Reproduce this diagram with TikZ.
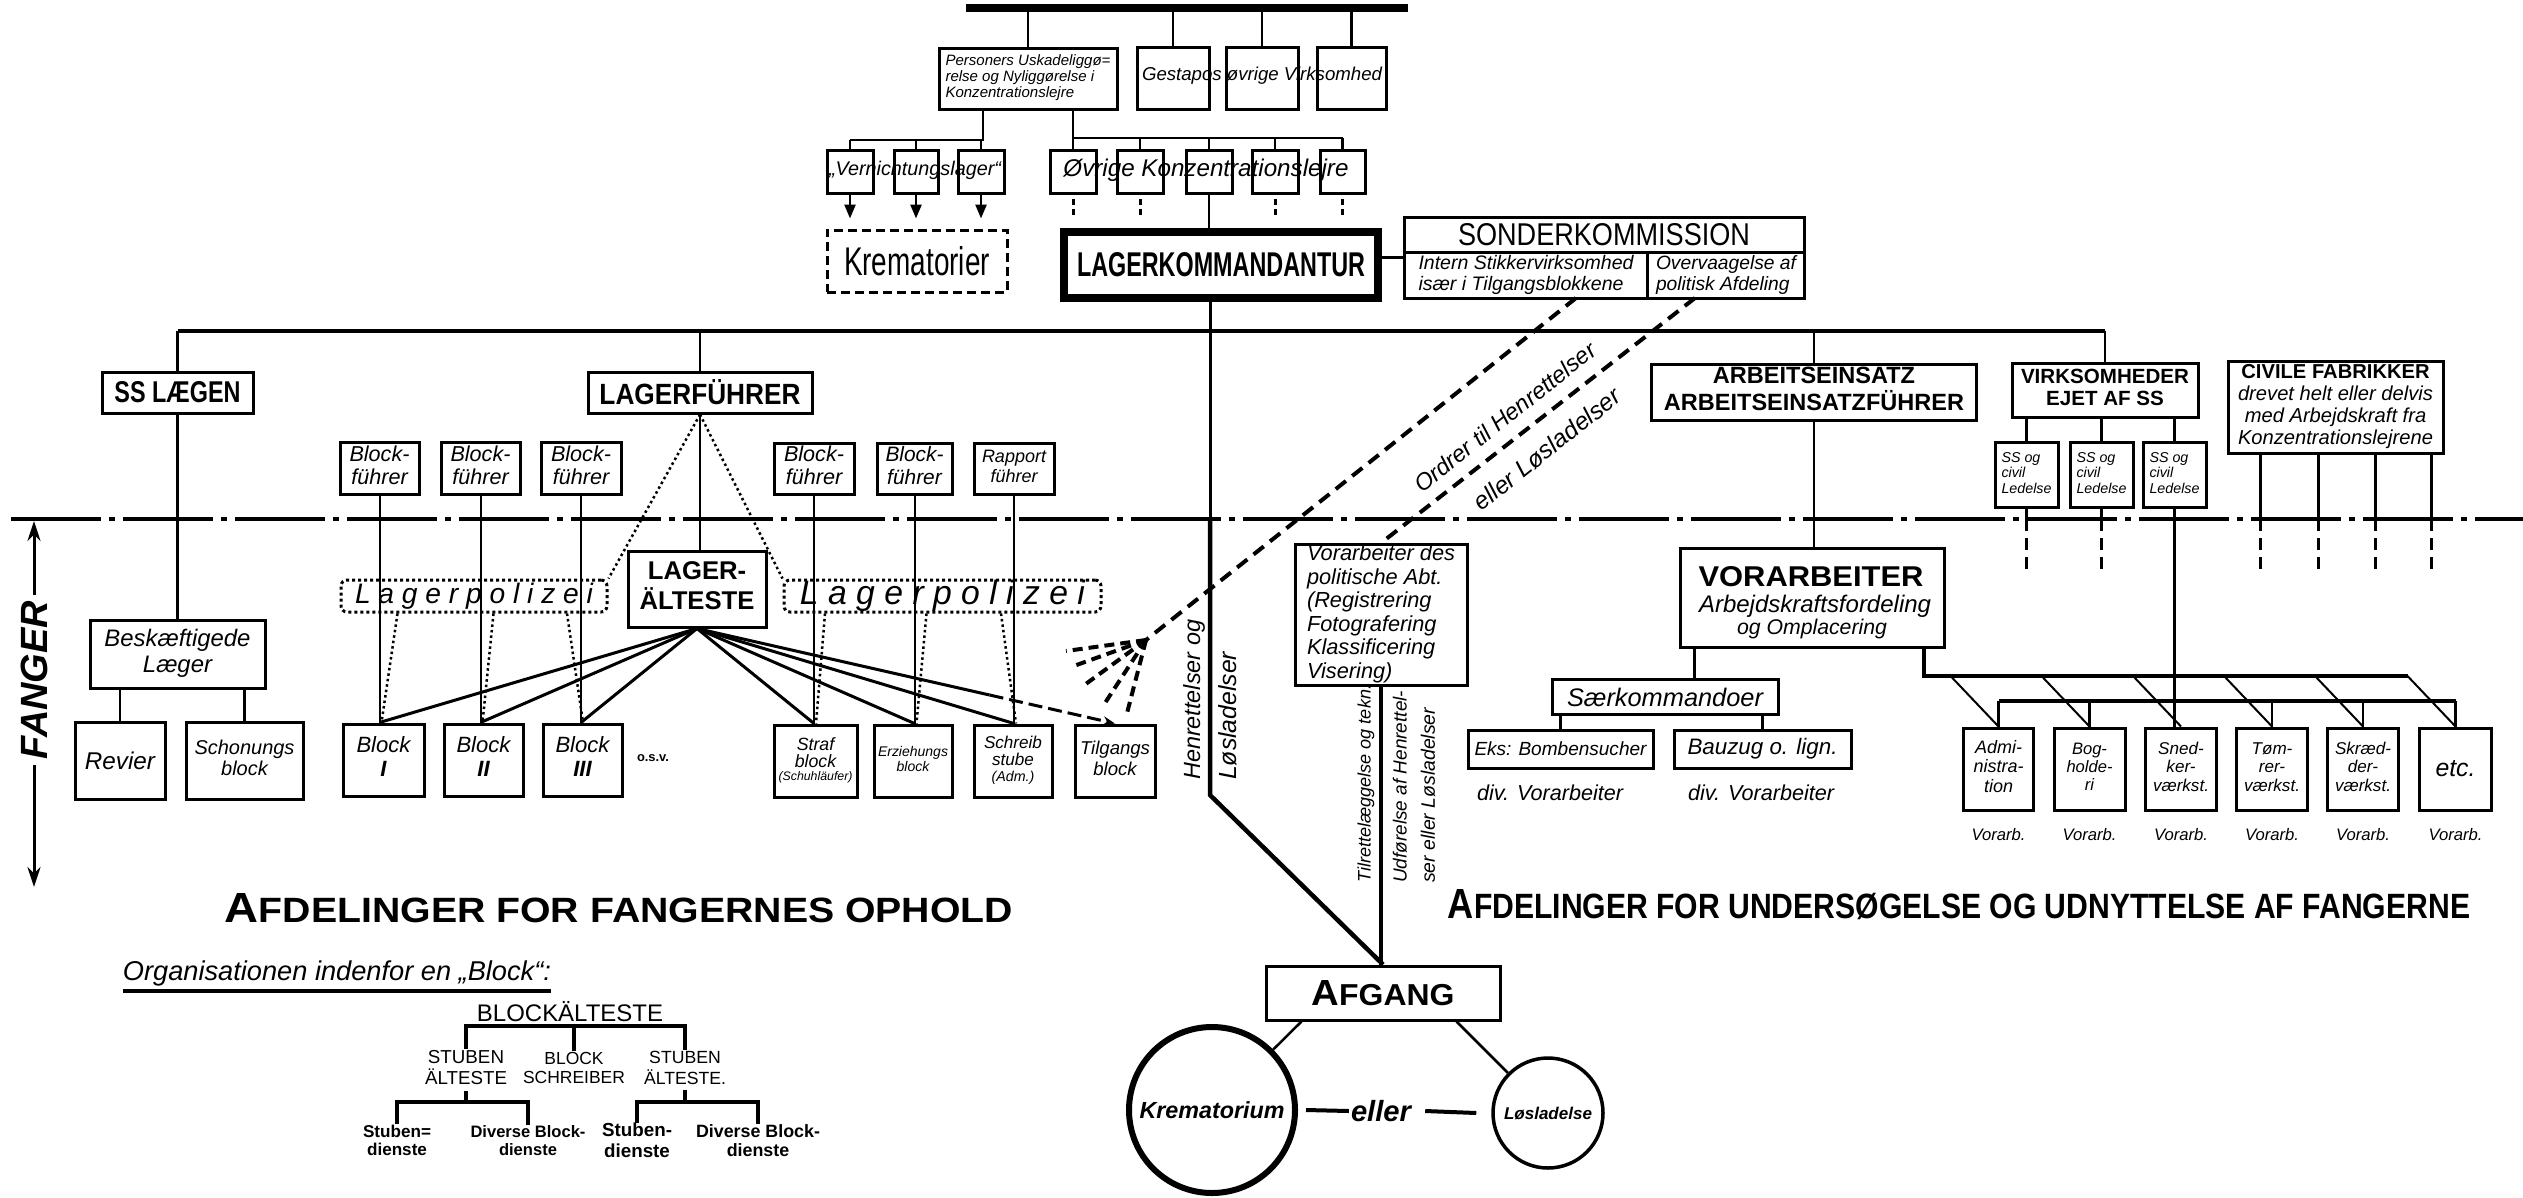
\documentclass[tikz,border=0pt]{standalone}
\usepackage{fontspec}
\setmainfont{Liberation Sans}
\usetikzlibrary{arrows.meta,calc}
\newcommand\fit[2]{\resizebox{#1pt}{!}{#2}}
\newcommand\fitwh[3]{\resizebox{#1pt}{#2pt}{#3}}
\newcommand\mlc[1]{\begin{tabular}{@{}c@{}}#1\end{tabular}}
\newcommand\mll[1]{\begin{tabular}{@{}l@{}}#1\end{tabular}}
\renewcommand\arraystretch{0.9}
\begin{document}
\begin{tikzpicture}[x=1pt,y=-1pt,
  box/.style={draw, line width=3pt, inner sep=0pt, align=center},
  con/.style={line width=2.5pt},
  thinl/.style={line width=2pt},
  dots/.style={line width=2.5pt, dash pattern=on 2.5pt off 3pt},
  dsh/.style={line width=4pt, dash pattern=on 13pt off 8pt},
  txt/.style={inner sep=0pt}]
\useasboundingbox (0,0) rectangle (2523,1197);
\fill[white] (0,0) rectangle (2523,1197);

% ---------- top ----------
\node[fill=black, inner sep=0pt, minimum width=442pt, minimum height=8pt] (topbar) at (1187,8) {};
\node[box, minimum width=178pt, minimum height=61pt] (pers) at (1028,78.5)
  {\fit{165}{\itshape\mll{Personers Uskadeliggø=\\relse og Nyliggørelse i\\Konzentrationslejre}}};
\node[box, minimum width=72pt, minimum height=62pt] (g1) at (1173,78) {};
\node[box, minimum width=72pt, minimum height=62pt] (g2) at (1262,78) {};
\node[box, minimum width=69pt, minimum height=62pt] (g3) at (1351.5,78) {};
\node[txt] (gtxt) at (1262,76) {\fit{240}{\itshape Gestapos øvrige Virksomhed}};
\foreach \n in {pers,g1,g2,g3} \draw[con] (\n.north |- topbar.south) -- (\n.north);

% Vernichtungslager
\node[box, minimum width=46pt, minimum height=43pt] (v1) at (850,171.5) {};
\node[box, minimum width=44pt, minimum height=43pt] (v2) at (916,171.5) {};
\node[box, minimum width=46pt, minimum height=43pt] (v3) at (981,171.5) {};
\node[txt] (vtxt) at (915,170) {\fit{172}{\itshape „Vernichtungslager“}};
\coordinate (vj) at (983,140);
\draw[con] (pers.south -| vj) -- (vj) -- (vj -| v1.north);
\foreach \n in {v1,v2,v3} \draw[con] (\n.north |- vj) -- (\n.north);
\node[box, dash pattern=on 9pt off 5pt, minimum width=180pt, minimum height=62pt] (krem) at (917,261) {\fitwh{146}{29}{Krematorier}};
\foreach \n in {v1,v2,v3} \draw[con, shorten >=10pt, -{Triangle[length=14pt,width=11pt]}] (\n.south) -- (\n.south |- krem.north);

% Oevrige Konzentrationslejre
\node[box, minimum width=46pt, minimum height=43pt] (o1) at (1073,171.5) {};
\node[box, minimum width=46pt, minimum height=43pt] (o2) at (1140,171.5) {};
\node[box, minimum width=46pt, minimum height=43pt] (o3) at (1209,171.5) {};
\node[box, minimum width=46pt, minimum height=43pt] (o4) at (1275,171.5) {};
\node[box, minimum width=45pt, minimum height=43pt] (o5) at (1342.5,171.5) {};
\node[txt] (otxt) at (1206,170) {\fit{285}{\itshape Øvrige Konzentrationslejre}};
\coordinate (oj) at (1073,138);
\draw[con] (pers.south -| oj) -- (oj) -- (oj -| o5.north);
\foreach \n in {o1,o2,o3,o4,o5} \draw[con] (\n.north |- oj) -- (\n.north);
\foreach \n in {o1,o2,o4,o5} \draw[line width=3pt, dash pattern=on 6pt off 4pt] (\n.south) ++(0,4) -- ++(0,17);

% Lagerkommandantur
\node[box, line width=8pt, minimum width=314pt, minimum height=66pt] (lk) at (1221,265) {\fitwh{288}{24}{\bfseries LAGERKOMMANDANTUR}};
\draw[con] (o3.south) -- (o3.south |- lk.north);

% Sonderkommission
\node[box, minimum width=400pt, minimum height=81pt] (sk) at (1604,257.5) {};
\node[txt, minimum width=244pt, minimum height=45pt] (sk1) at (1526,275.5) {\fit{215}{\itshape\mll{Intern Stikkervirksomhed\\især i Tilgangsblokkene}}};
\node[txt, minimum width=156pt, minimum height=45pt] (sk2) at (1726,275.5) {\fit{140}{\itshape\mll{Overvaagelse af\\politisk Afdeling}}};
\node[txt] (skt) at (1604,235) {\fitwh{292}{22}{SONDERKOMMISSION}};
\draw[line width=3pt] (sk1.north west) -- (sk2.north east);
\draw[line width=3pt] (sk2.north west) -- (sk2.south west);
\draw[con] (lk.east |- sk.west) -- (sk.west);

% ---------- bus ----------
\coordinate (bus) at (1000,331);
\node[box, minimum width=151pt, minimum height=41pt] (ss) at (177.5,392.5) {\fitwh{126}{21}{\bfseries SS LÆGEN}};
\node[box, minimum width=224pt, minimum height=41pt] (lf) at (700,392.5) {\fitwh{201}{25}{\bfseries LAGERFÜHRER}};
\node[box, minimum width=325pt, minimum height=56pt] (ae) at (1814,392) {\fit{300}{\bfseries\mlc{ARBEITSEINSATZ\\ARBEITSEINSATZFÜHRER}}};
\node[box, minimum width=186pt, minimum height=54pt] (vh) at (2105,390) {\fit{168}{\bfseries\mlc{VIRKSOMHEDER\\EJET AF SS}}};
\node[box, minimum width=215pt, minimum height=92pt] (cf) at (2335.5,407) {\fit{195}{\mlc{{\bfseries CIVILE FABRIKKER}\\\itshape drevet helt eller delvis\\\itshape med Arbejdskraft fra\\\itshape Konzentrationslejrene}}};
\draw[line width=4pt] (ss.north |- bus) -- (vh.north |- bus);
\foreach \n in {ss,lf,ae,vh} \draw[con] (\n.north |- bus) -- (\n.north);

% boundary
\coordinate (bd) at (11,519);
\coordinate (bdR) at (2523,519);
\draw[line width=4pt, dash pattern=on 90pt off 8pt on 6pt off 8pt] (bd) -- (bdR);

% SS og civil Ledelse
\node[box, minimum width=63pt, minimum height=65pt] (sc1) at (2026.5,474.5) {\fit{50}{\itshape\mll{SS og\\civil\\Ledelse}}};
\node[box, minimum width=63pt, minimum height=65pt] (sc2) at (2101.5,474.5) {\fit{50}{\itshape\mll{SS og\\civil\\Ledelse}}};
\node[box, minimum width=63pt, minimum height=65pt] (sc3) at (2174.5,474.5) {\fit{50}{\itshape\mll{SS og\\civil\\Ledelse}}};
\foreach \i in {1,2,3} \draw[con] (vh.south -| sc\i.north) -- (sc\i.north);
\foreach \i in {1,2} {
  \draw[con] (sc\i.south) -- (sc\i.south |- bd);
  \draw[con, dash pattern=on 12pt off 7pt] (sc\i.south |- bd) -- ++(0,50);
}
\foreach \dx in {-75,-17,40,96} {
  \draw[con] ($(cf.south)+(\dx,0)$) -- ($(cf.south |- bd)+(\dx,0)$);
  \draw[con, dash pattern=on 12pt off 7pt] ($(cf.south |- bd)+(\dx,0)$) -- ++(0,50);
}

% FANGER
\node[rotate=90, inner sep=6pt] (fang) at (34,680) {\fit{158}{\bfseries\itshape FANGER}};
\coordinate (ftop) at (34,521);
\coordinate (fbot) at (34,887);
\draw[line width=3pt, -{Stealth[length=20pt,width=13pt]}] (fang.east) -- (ftop);
\draw[line width=3pt, -{Stealth[length=20pt,width=13pt]}] (fang.west) -- (fbot);

% SS Laegen branch
\node[box, minimum width=175pt, minimum height=68pt] (bl) at (177.5,654) {\fit{146}{\itshape\mlc{Beskæftigede\\Læger}}};
\draw[con] (ss.south) -- (bl.north);
\node[box, minimum width=90pt, minimum height=77pt] (rev) at (120,760.5) {\fit{70}{\itshape Revier}};
\node[box, minimum width=117pt, minimum height=77pt] (sch) at (244.5,760.5) {\fit{100}{\itshape\mlc{Schonungs\\block}}};
\draw[con] (bl.south -| rev.north) -- (rev.north);
\draw[con] (bl.south -| sch.north) -- (sch.north);

% Blockfuehrer
\node[box, minimum width=79pt, minimum height=52pt] (bf1) at (379.5,468) {\fit{60}{\itshape\mlc{Block-\\führer}}};
\node[box, minimum width=79pt, minimum height=52pt] (bf2) at (480.5,468) {\fit{60}{\itshape\mlc{Block-\\führer}}};
\node[box, minimum width=80pt, minimum height=52pt] (bf3) at (581,468) {\fit{60}{\itshape\mlc{Block-\\führer}}};
\node[box, minimum width=80pt, minimum height=51pt] (bf4) at (814,468.5) {\fit{60}{\itshape\mlc{Block-\\führer}}};
\node[box, minimum width=75pt, minimum height=51pt] (bf5) at (914.5,468.5) {\fit{58}{\itshape\mlc{Block-\\führer}}};
\node[box, minimum width=80pt, minimum height=51pt] (rf) at (1014,468.5) {\fit{64}{\itshape\mlc{Rapport\\führer}}};

% Lagerpolizei
\node[draw, line width=3pt, dash pattern=on 3pt off 3pt, rounded corners=6pt, minimum width=266pt, minimum height=32pt, inner sep=0pt] (lp1) at (474,596) {\fit{238}{\itshape L a g e r p o l i z e i}};
\node[draw, line width=3pt, dash pattern=on 3pt off 3pt, rounded corners=6pt, minimum width=317pt, minimum height=32pt, inner sep=0pt] (lp2) at (942.5,596) {\fit{285}{\itshape L a g e r p o l i z e i}};

% Lageraelteste
\node[box, fill=white, minimum width=138pt, minimum height=76pt] (la) at (697,589) {\fit{115}{\bfseries\mlc{LAGER-\\ÄLTESTE}}};

% Blocks
\node[box, minimum width=81pt, minimum height=72pt] (b1) at (383.5,760) {\fit{54}{\itshape\mlc{Block\\\bfseries I}}};
\node[box, minimum width=79pt, minimum height=72pt] (b2) at (483.5,760) {\fit{54}{\itshape\mlc{Block\\\bfseries II}}};
\node[box, minimum width=79pt, minimum height=72pt] (b3) at (582.5,760) {\fit{54}{\itshape\mlc{Block\\\bfseries III}}};
\node[txt] (osv) at (653,758) {\fit{32}{\bfseries o.s.v.}};
\node[box, minimum width=83pt, minimum height=72pt] (bs) at (815.5,761) {\fit{74}{\itshape\mlc{{\Large Straf}\\{\Large block}\\(Schuhläufer)}}};
\node[box, minimum width=78pt, minimum height=72pt] (be) at (913,761) {\fit{70}{\itshape\mlc{Erziehungs\\block}}};
\node[box, minimum width=78pt, minimum height=72pt] (bsc) at (1013,761) {\fit{58}{\itshape\mlc{{\large Schreib}\\{\large stube}\\(Adm.)}}};
\node[box, minimum width=80pt, minimum height=72pt] (bt) at (1115,761) {\fit{70}{\itshape\mlc{Tilgangs\\block}}};

\foreach \a/\b in {bf1/b1,bf2/b2,bf3/b3,bf4/bs,bf5/be,rf/bsc} \draw[thinl] (\a.south) -- (\a.south |- \b.north);
\foreach \a/\b/\p/\d in {bf1/b1/lp1/18,bf2/b2/lp1/13,bf3/b3/lp1/-14,bf4/bs/lp2/11,bf5/be/lp2/12,rf/bsc/lp2/-13}
  \draw[dots] ($(\p.south -| \a.south)+(\d,0)$) -- ($(\a.south |- \b.north)+(2,0)$);
\foreach \a/\b in {bf1/b1,bf2/b2,bf3/b3,bf4/bs,bf5/be,rf/bsc} \draw[line width=3pt] (la.south) -- (\a.south |- \b.north);
\coordinate (tg) at ($(la.south)!0.7!(bt.north)$);
\draw[line width=3pt] (la.south) -- (tg);
\draw[line width=3pt, dash pattern=on 14pt off 6pt, -{Stealth[length=12pt,width=9pt]}] (tg) -- (bt.north);

\draw[con] (lf.south) -- (lf.south |- la.north);
\draw[dots] (lf.south) -- (lp1.north east);
\draw[dots] (lf.south) -- (lp2.north west);

% ---------- Afgang ----------
\node[box, minimum width=234pt, minimum height=54pt] (ag) at (1383,993) {\fitwh{143}{25}{\bfseries{\large A}FGANG}};
\coordinate (mv) at (1210,795);
\draw[line width=3pt] (lk.south -| mv) -- (bd -| mv);
\draw[line width=4.5pt] (bd -| mv) -- (mv) -- (ag.north);
\node[rotate=90, anchor=west, inner sep=0pt] (t1) at (1194,780) {\fit{160}{\itshape Henrettelser og}};
\node[rotate=90, anchor=west, inner sep=0pt] (t2) at (1228,780) {\fit{128}{\itshape Løsladelser}};

% Vorarbeiter des politische Abt.
\node[box, minimum width=172pt, minimum height=130pt] (vpa) at (1381,615) {\fit{148}{\itshape\mll{Vorarbeiter des\\politische Abt.\\(Registrering\\Fotografering\\Klassificering\\Visering)}}};
\draw[line width=3.5pt] (vpa.south) -- (vpa.south |- ag.north);
\node[rotate=90, anchor=west, inner sep=0pt] (t3) at (1366,883) {\fit{198}{\itshape Tilrettelæggelse og tekn.}};
\node[rotate=90, anchor=west, inner sep=0pt] (t4) at (1400,883) {\fit{192}{\itshape Udførelse af Henrettel-}};
\node[rotate=90, anchor=west, inner sep=0pt] (t5) at (1428,883) {\fit{175}{\itshape ser eller Løsladelser}};

% dashed order lines
\coordinate (d1) at (1576,298);
\coordinate (d2) at (1695,298);
\coordinate (sp) at (1146,640);
\draw[dsh] (d1) -- (sp);
\draw[dsh] (d2) -- (vpa.north);
\node[rotate=38.5, inner sep=0pt] (o1t) at (1505,417) {\fit{225}{\itshape Ordrer til Henrettelser}};
\node[rotate=38.5, inner sep=0pt] (o2t) at (1547,449) {\fit{180}{\itshape eller Løsladelser}};
\coordinate (r1) at (1066,651);
\coordinate (r2) at (1071,667);
\coordinate (r3) at (1083,686);
\coordinate (r4) at (1105,703);
\coordinate (r5) at (1126,717);
\foreach \r in {r1,r2,r3,r4,r5} \draw[line width=4pt, dash pattern=on 10pt off 6pt] (sp) -- (\r);

% circles
\node[circle, draw, line width=6pt, minimum size=166pt, inner sep=0pt] (kc) at (1212,1110) {\fit{145}{\bfseries\itshape Krematorium}};
\node[circle, draw, line width=3.5pt, minimum size=110pt, inner sep=0pt] (lc) at (1548,1113) {\fit{88}{\bfseries\itshape Løsladelse}};
\node[txt] (eller) at (1381,1111) {\fit{60}{\bfseries\itshape eller}};
\draw[line width=4pt] ($(kc.east)+(8,0)$) -- ($(eller.west)+(-2,0)$);
\draw[line width=4pt] ($(eller.east)+(14,0)$) -- ($(lc.west)+(-15,0)$);
\draw[con] ($(ag.south west)+(37,0)$) -- (kc);
\draw[con] ($(ag.south east)+(-45,0)$) -- (lc);

% ---------- Vorarbeiter ----------
\node[box, minimum width=264pt, minimum height=99pt] (vo) at (1812,597.5) {};
\node[txt] (vo1) at (1811,577) {\fitwh{225}{20}{\bfseries VORARBEITER}};
\node[txt] (vo2) at (1815,606) {\fit{232}{\itshape Arbejdskraftsfordeling}};
\node[txt] (vo3) at (1812,629) {\fit{150}{\itshape og Omplacering}};
\draw[con] (ae.south) -- (ae.south |- vo.north);
\coordinate (voL) at ($(vo.south west)+(16,0)$);
\node[box, minimum width=226pt, minimum height=35pt] (sko) at (1665,697) {\fit{196}{\itshape Særkommandoer}};
\draw[con] (voL) -- (voL |- sko.north);
\node[box, minimum width=185pt, minimum height=38pt] (ebs) at (1560.5,749) {\fit{172}{\itshape Eks: Bombensucher}};
\node[box, minimum width=177pt, minimum height=38pt] (bzg) at (1762.5,749) {\fit{150}{\itshape Bauzug o. lign.}};
\draw[con] (sko.south -| ebs.north) -- (ebs.north);
\draw[con] (sko.south -| bzg.north) -- (bzg.north);
\node[txt] (dv1) at (1550,793) {\fit{146}{\itshape div. Vorarbeiter}};
\node[txt] (dv2) at (1761,793) {\fit{146}{\itshape div. Vorarbeiter}};

% workshops
\node[box, minimum width=70pt, minimum height=82pt] (ad) at (1998.5,769) {\fit{50}{\itshape\mlc{Admi-\\nistra-\\tion}}};
\node[box, minimum width=71pt, minimum height=82pt] (bo) at (2089.5,769) {\fit{46}{\itshape\mlc{Bog-\\holde-\\ri}}};
\node[box, minimum width=71pt, minimum height=82pt] (sn) at (2181,769) {\fit{56}{\itshape\mlc{Sned-\\ker-\\værkst.}}};
\node[box, minimum width=71pt, minimum height=82pt] (tm) at (2272,769) {\fit{56}{\itshape\mlc{Tøm-\\rer-\\værkst.}}};
\node[box, minimum width=71pt, minimum height=82pt] (sd) at (2363,769) {\fit{56}{\itshape\mlc{Skræd-\\der-\\værkst.}}};
\node[box, minimum width=72pt, minimum height=82pt] (et) at (2455.5,769) {\fit{40}{\itshape etc.}};
\draw[con] (sc3.south) -- (sc3.south |- sn.north);
\coordinate (ub) at (1924,676);
\coordinate (lb) at (2001,701);
\coordinate (ubR) at ($(et.north |- ub)+(-48,0)$);
\draw[line width=4pt] (vo.south -| ub) -- (ub) -- (ubR);
\draw[line width=4pt] (ad.north |- lb) -- (et.north |- lb);
\foreach \n in {ad,bo,tm,sd,et} \draw[con] (\n.north |- lb) -- (\n.north);
\foreach \n in {ad,bo,sn,tm,sd,et} \draw[thinl] ($(\n.north |- ub)+(-48,0)$) -- (\n.north);
\foreach \n in {ad,bo,sn,tm,sd,et} \node[txt] (va\n) at ($(\n.south)+(0,23)$) {\fit{54}{\itshape Vorarb.}};

% ---------- titles ----------
\node[txt] (tl) at (619,908) {\fitwh{788}{29}{\bfseries{\large A}FDELINGER FOR FANGERNES OPHOLD}};
\node[txt] (tr) at (1959,905) {\fitwh{1022}{29}{\bfseries{\large A}FDELINGER FOR UNDERSØGELSE OG UDNYTTELSE AF FANGERNE}};

% ---------- Block organisation ----------
\node[txt] (org) at (337,973) {\fit{428}{\itshape Organisationen indenfor en „Block“:}};
\draw[line width=4pt] ($(org.south west)+(0,5)$) -- ($(org.south east)+(0,5)$);
\node[txt] (bae) at (570,1012) {\fit{186}{BLOCKÄLTESTE}};
\coordinate (brk) at (570,1026);
\node[txt] (st1) at (466,1070) {\fit{82}{\mlc{STUBEN\\ÄLTESTE}}};
\node[txt] (bsw) at (574,1070) {\fit{102}{\mlc{BLOCK\\SCHREIBER}}};
\node[txt] (st2) at (685,1070) {\fit{82}{\mlc{STUBEN\\ÄLTESTE.}}};
\draw[line width=3.5pt] (st1.north) |- (brk) -| (st2.north);
\draw[line width=3.5pt] (bsw.north |- brk) -- (bsw.north);
\coordinate (brl) at (466,1102);
\coordinate (brr) at (685,1102);
\node[txt] (sd1) at (397,1143) {\fit{68}{\bfseries\mlc{Stuben=\\dienste}}};
\node[txt] (db1) at (528,1143) {\fit{115}{\bfseries\mlc{Diverse Block-\\dienste}}};
\node[txt] (sd2) at (637,1143) {\fit{70}{\bfseries\mlc{Stuben-\\dienste}}};
\node[txt] (db2) at (758,1143) {\fit{124}{\bfseries\mlc{Diverse Block-\\dienste}}};
\draw[line width=3.5pt] (st1.south) -- (brl);
\draw[line width=3.5pt] (sd1.north) |- (brl) -| (db1.north);
\draw[line width=3.5pt] (st2.south) -- (brr);
\draw[line width=3.5pt] (sd2.north) |- (brr) -| (db2.north);
\end{tikzpicture}
\end{document}
